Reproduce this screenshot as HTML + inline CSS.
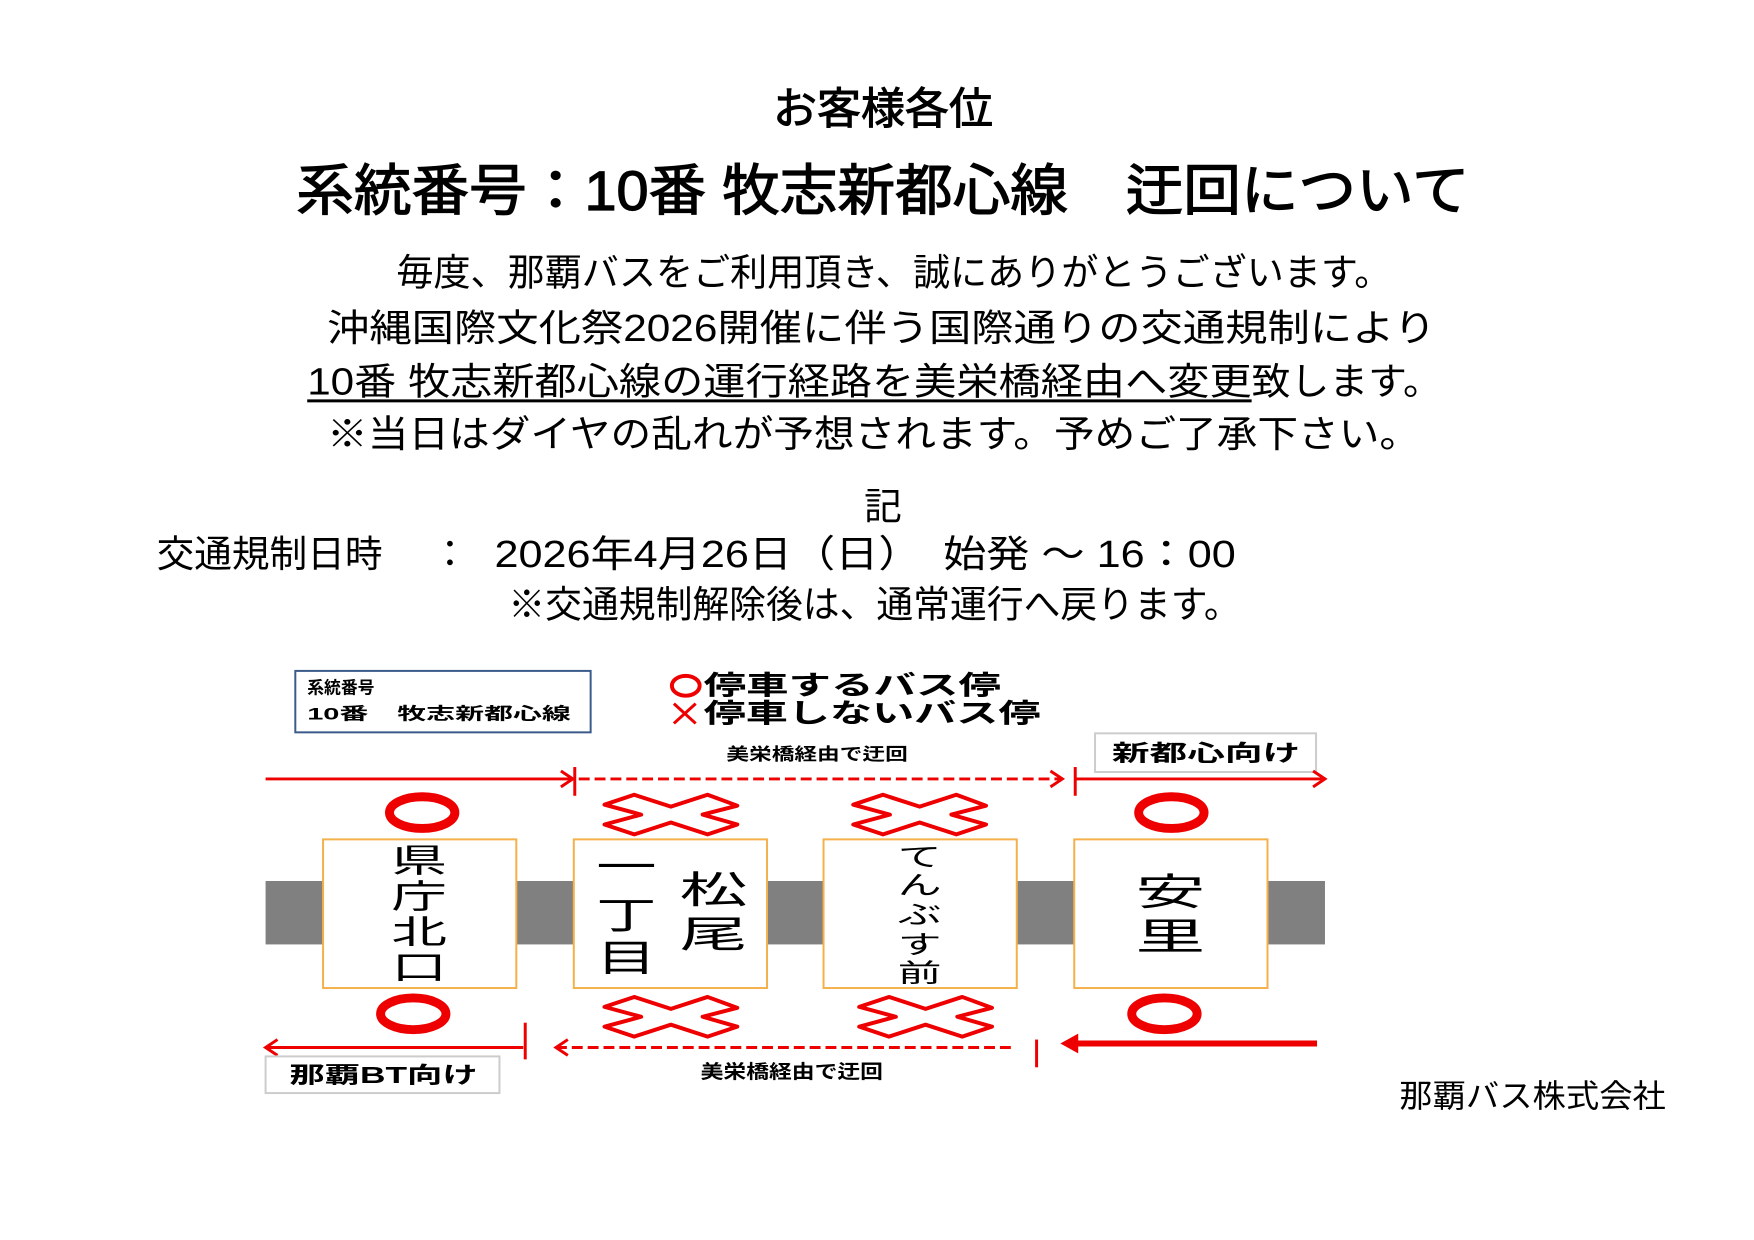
<!DOCTYPE html>
<html><head><meta charset="utf-8"><style>
html,body{margin:0;padding:0;background:#fff}
svg{display:block}
text{font-family:"Liberation Sans","Noto Sans CJK JP",sans-serif;fill:#000}
</style></head><body>
<svg width="1754" height="1240" viewBox="0 0 1754 1240" xmlns="http://www.w3.org/2000/svg">
<defs>
<polygon id="xx" points="-67,-10 -37,-20 0,-8 37,-20 67,-9 32,0 67,10 37,20 0,8 -37,20 -67,10 -30,0" fill="#fff" stroke="#e00" stroke-width="4" stroke-linejoin="round"/>
</defs>
<rect width="1754" height="1240" fill="#fff"/>
<g transform="scale(0.991)">
<!-- header -->
<text x="891" y="125" font-size="44" text-anchor="middle" stroke="#000" stroke-width="1" textLength="222" lengthAdjust="spacingAndGlyphs">お客様各位</text>
<text x="299" y="212" font-size="56" stroke="#000" stroke-width="1.2" textLength="1184" lengthAdjust="spacingAndGlyphs">系統番号：10番 牧志新都心線　迂回について</text>
<text x="400" y="288" font-size="38" textLength="1004" lengthAdjust="spacingAndGlyphs">毎度、那覇バスをご利用頂き、誠にありがとうございます。</text>
<text x="330" y="344" font-size="38" textLength="1119" lengthAdjust="spacingAndGlyphs">沖縄国際文化祭2026開催に伴う国際通りの交通規制により</text>
<text x="310" y="398" font-size="38" textLength="953" lengthAdjust="spacingAndGlyphs">10番 牧志新都心線の運行経路を美栄橋経由へ変更</text>
<rect x="310" y="403" width="953" height="3" fill="#000"/>
<text x="1263" y="398" font-size="38" textLength="192" lengthAdjust="spacingAndGlyphs">致します。</text>
<text x="330" y="451" font-size="38" textLength="1103" lengthAdjust="spacingAndGlyphs">※当日はダイヤの乱れが予想されます。予めご了承下さい。</text>
<text x="891" y="524" font-size="38" text-anchor="middle">記</text>
<text x="158" y="572" font-size="38" textLength="228" lengthAdjust="spacingAndGlyphs">交通規制日時</text>
<text x="435" y="572" font-size="38">：</text>
<text x="499" y="572" font-size="38" textLength="748" lengthAdjust="spacingAndGlyphs">2026年4月26日（日）　始発 ～ 16：00</text>
<text x="513" y="623" font-size="38" textLength="739" lengthAdjust="spacingAndGlyphs">※交通規制解除後は、通常運行へ戻ります。</text>
<text x="1412" y="1117" font-size="32" textLength="269" lengthAdjust="spacingAndGlyphs">那覇バス株式会社</text>

<!-- legend -->
<rect x="298" y="677" width="298" height="62" fill="#fff" stroke="#3a5a8a" stroke-width="2"/>
<text x="310" y="700" font-size="17" font-weight="bold">系統番号</text>
<text x="310" y="726" font-size="17" font-weight="bold" textLength="266" lengthAdjust="spacingAndGlyphs">10番　牧志新都心線</text>
<ellipse cx="692" cy="692" rx="14" ry="10" fill="none" stroke="#e00" stroke-width="4"/>
<text x="710" y="701" font-size="27" font-weight="bold" textLength="300" lengthAdjust="spacingAndGlyphs">停車するバス停</text>
<path d="M680 710 L702 730 M702 710 L680 730" stroke="#e00" stroke-width="3"/>
<text x="710" y="729" font-size="27" font-weight="bold" textLength="340" lengthAdjust="spacingAndGlyphs">停車しないバス停</text>

<!-- labels -->
<text x="733" y="767" font-size="17" font-weight="bold" textLength="183" lengthAdjust="spacingAndGlyphs">美栄橋経由で迂回</text>
<rect x="1105" y="740" width="223" height="39" fill="#fff" stroke="#ccc" stroke-width="2"/>
<text x="1122" y="768" font-size="23" font-weight="bold" textLength="190" lengthAdjust="spacingAndGlyphs">新都心向け</text>

<!-- top arrows -->
<g stroke="#e00" fill="none" stroke-width="3">
<line x1="268" y1="786" x2="578" y2="786"/>
<path d="M566 778 L578 786 L566 794"/>
<line x1="580" y1="774" x2="580" y2="803"/>
<line x1="584" y1="786" x2="1072" y2="786" stroke-dasharray="11 5"/>
<path d="M1060 778 L1072 786 L1060 794"/>
<line x1="1085" y1="774" x2="1085" y2="803"/>
<line x1="1085" y1="786" x2="1337" y2="786"/>
<path d="M1325 778 L1337 786 L1325 794"/>
</g>

<!-- bar -->
<rect x="268" y="889" width="1069" height="64" fill="#808080"/>

<!-- circles -->
<g fill="none" stroke="#e00" stroke-width="9">
<ellipse cx="426" cy="820" rx="33" ry="16"/>
<ellipse cx="1182" cy="820" rx="33" ry="16"/>
<ellipse cx="417" cy="1023" rx="33" ry="16"/>
<ellipse cx="1175" cy="1023" rx="33" ry="16"/>
</g>
<!-- crosses -->
<use href="#xx" transform="translate(677,822)"/>
<use href="#xx" transform="translate(928,822)"/>
<use href="#xx" transform="translate(677,1026)"/>
<use href="#xx" transform="translate(934,1026)"/>

<!-- station boxes -->
<g fill="#fff" stroke="#f4b04a" stroke-width="2">
<rect x="326" y="847" width="195" height="150"/>
<rect x="579" y="847" width="195" height="150"/>
<rect x="831" y="847" width="195" height="150"/>
<rect x="1084" y="847" width="195" height="150"/>
</g>
<g text-anchor="middle">
<g font-size="33" transform="translate(423,0) scale(1.7,1)">
<text x="0" y="880">県</text><text x="0" y="916">庁</text><text x="0" y="952">北</text><text x="0" y="988">口</text>
</g>
<g font-size="38" transform="translate(632,0) scale(1.6,1)">
<text x="0" y="888">一</text><text x="0" y="937">丁</text><text x="0" y="980">目</text>
</g>
<g font-size="38" transform="translate(720,0) scale(1.8,1)">
<text x="0" y="911">松</text><text x="0" y="956">尾</text>
</g>
<g font-size="26" transform="translate(928,0) scale(1.7,1)">
<text x="0" y="874">て</text><text x="0" y="902">ん</text><text x="0" y="932">ぶ</text><text x="0" y="962">す</text><text x="0" y="991">前</text>
</g>
<g font-size="38" transform="translate(1181,0) scale(1.85,1)">
<text x="0" y="913">安</text><text x="0" y="958">里</text>
</g>
</g>

<!-- bottom arrows -->
<g stroke="#e00" fill="none" stroke-width="3">
<line x1="268" y1="1057" x2="528" y2="1057"/>
<path d="M280 1049 L268 1057 L280 1065"/>
<line x1="530" y1="1032" x2="530" y2="1069"/>
<line x1="561" y1="1057" x2="1021" y2="1057" stroke-dasharray="11 5"/>
<path d="M573 1049 L561 1057 L573 1065"/>
<line x1="1046" y1="1049" x2="1046" y2="1077"/>
<line x1="1080" y1="1053" x2="1329" y2="1053" stroke-width="6"/>
</g>
<path d="M1070 1053 L1088 1043 L1088 1063 Z" fill="#e00"/>
<rect x="268" y="1066" width="236" height="37" fill="#fff" stroke="#ccc" stroke-width="2"/>
<text x="292" y="1093" font-size="23" font-weight="bold" textLength="190" lengthAdjust="spacingAndGlyphs">那覇BT向け</text>
<text x="707" y="1088" font-size="19" font-weight="bold" textLength="184" lengthAdjust="spacingAndGlyphs">美栄橋経由で迂回</text>
</g>
</svg>
</body></html>
